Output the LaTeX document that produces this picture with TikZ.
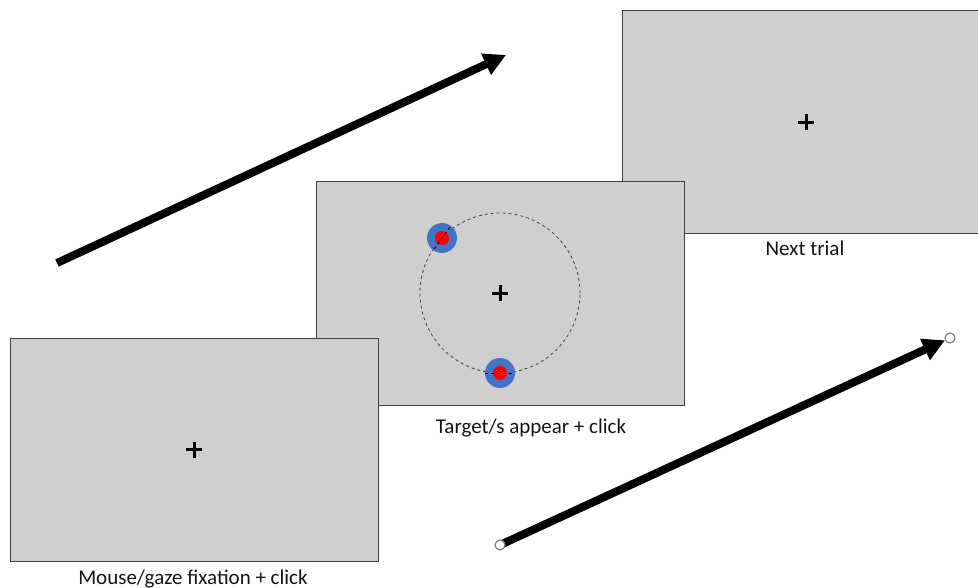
\documentclass[tikz,border=0pt]{standalone}
\usepackage{fontspec}
\setmainfont{Carlito}
\usetikzlibrary{arrows.meta}
\definecolor{scr}{RGB}{208,206,207}
\definecolor{edge}{RGB}{64,64,64}
\definecolor{tblue}{RGB}{68,114,196}
\definecolor{txt}{RGB}{20,20,20}
\tikzset{
  screen/.style={draw=edge, line width=1pt, fill=scr, rectangle, minimum width=368pt, minimum height=223pt, inner sep=0pt},
  lbl/.style={font=\fontsize{21}{24}\selectfont, text=txt, inner sep=0pt},
  fix/.style={line width=3pt, black},
  bigarrow/.style={line width=8pt, -{Triangle[length=22pt,width=22pt]}},
  endpt/.style={circle, draw=gray, line width=1.2pt, fill=white, minimum size=10pt, inner sep=0pt}
}
\begin{document}
\begin{tikzpicture}[x=1pt,y=-1pt]
\useasboundingbox (0,0) rectangle (978,588);
% screens (back to front)
\node[screen] (s3) at (806,122.5) {};
\node[screen] (s2) at (500,293.5) {};
% dashed circle and targets on screen 2
\node[circle, draw=edge, dashed, line width=0.8pt, minimum size=160pt, inner sep=0pt] (ring) at (500,293) {};
\node[circle, fill=tblue, minimum size=30pt, inner sep=0pt] (t1o) at (442,238) {};
\node[circle, fill=red, minimum size=14pt, inner sep=0pt] (t1i) at (442,238) {};
\node[circle, fill=tblue, minimum size=30pt, inner sep=0pt] (t2o) at (500,373) {};
\node[circle, fill=red, minimum size=14pt, inner sep=0pt] (t2i) at (500,373) {};
\draw[black, dashed, line width=0.8pt] (t1o.center) ++(-8,11) -- ++(16,-22);
\draw[black, dashed, line width=0.8pt] (t2o.center) ++(-15,0) -- ++(30,0);
\node[screen] (s1) at (194,449.5) {};
% fixation crosses
\foreach \n in {s1,s2,s3}{
  \draw[fix] (\n.center) ++(-8,0) -- ++(16,0);
  \draw[fix] (\n.center) ++(0,-8) -- ++(0,16);
}
% labels
\node[lbl] (l1) at (193,579) {Mouse/gaze fixation + click};
\node[lbl] (l2) at (531,428) {Target/s appear + click};
\node[lbl] (l3) at (805,248) {Next trial};
% arrows
\coordinate (a1s) at (57,263);
\coordinate (a1e) at (506,55);
\draw[bigarrow] (a1s) -- (a1e);
\coordinate (a2s) at (500,545);
\coordinate (a2e) at (950,338);
\coordinate (a2t) at (945,340.3);
\draw[bigarrow, shorten <=2pt] (a2s) -- (a2t);
\node[endpt] (e1) at (a2s) {};
\node[endpt] (e2) at (a2e) {};
\end{tikzpicture}
\end{document}
